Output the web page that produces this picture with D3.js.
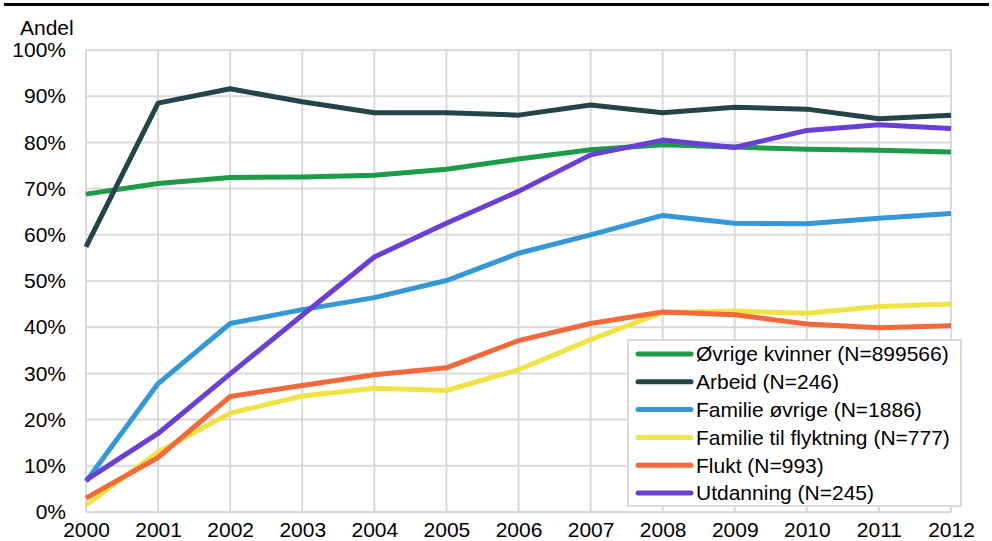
<!DOCTYPE html>
<html>
<head>
<meta charset="utf-8">
<script src="https://cdn.jsdelivr.net/npm/d3@7"></script>
<style>
  body { margin: 0; background: #fff; }
  svg { display: block; font-family: "Liberation Sans", Arial, sans-serif; }
</style>
</head>
<body>
<script>
var years = [2000, 2001, 2002, 2003, 2004, 2005, 2006, 2007, 2008, 2009, 2010, 2011, 2012];
var yTicks = [0, 10, 20, 30, 40, 50, 60, 70, 80, 90, 100];

var seriesNames = [
  "Øvrige kvinner (N=899566)",
  "Arbeid (N=246)",
  "Familie øvrige (N=1886)",
  "Familie til flyktning (N=777)",
  "Flukt (N=993)",
  "Utdanning (N=245)"
];
var seriesColors = ["#1c9c48", "#25434a", "#3498d6", "#f0e443", "#f3693a", "#6a3fd8"];

var ovrige    = [68.8, 71.1, 72.4, 72.5, 72.9, 74.2, 76.4, 78.4, 79.5, 79.0, 78.5, 78.3, 77.9];
var arbeid    = [57.4, 88.5, 91.6, 88.8, 86.4, 86.4, 85.9, 88.1, 86.4, 87.6, 87.2, 85.1, 85.9];
var famOvrige = [6.6, 27.8, 40.8, 43.8, 46.4, 50.1, 56.0, 60.0, 64.2, 62.5, 62.4, 63.6, 64.6];
var famFlykt  = [1.5, 13.0, 21.4, 25.1, 26.8, 26.3, 30.8, 37.3, 43.2, 43.5, 43.0, 44.5, 45.0];
var flukt     = [3.0, 11.8, 25.0, 27.4, 29.7, 31.2, 37.1, 40.8, 43.3, 42.7, 40.7, 39.9, 40.3];
var utdanning = [6.9, 17.0, 29.9, 42.6, 55.2, 62.5, 69.4, 77.3, 80.5, 78.9, 82.6, 83.8, 83.0];

var allValues = [ovrige, arbeid, famOvrige, famFlykt, flukt, utdanning];

var w = 992, h = 541;
var plotLeft = 86, plotRight = 951, plotTop = 50, plotBottom = 512;

var svg = d3.select("body").append("svg")
  .attr("width", w)
  .attr("height", h);

var xScale = d3.scaleLinear()
  .domain([2000, 2012])
  .range([plotLeft, plotRight]);

var yScale = d3.scaleLinear()
  .domain([0, 100])
  .range([plotBottom, plotTop]);

// top rule
svg.append("line")
  .attr("x1", 4).attr("x2", 989)
  .attr("y1", 4.5).attr("y2", 4.5)
  .attr("stroke", "#000")
  .attr("stroke-width", 3);

// grid
var grid = svg.append("g");
grid.selectAll(".hg")
  .data(yTicks)
  .enter()
  .append("line")
  .attr("x1", plotLeft).attr("x2", plotRight)
  .attr("y1", function(d) { return yScale(d); })
  .attr("y2", function(d) { return yScale(d); })
  .attr("stroke", "#d9d9d9")
  .attr("stroke-width", 2);
grid.selectAll(".vg")
  .data(years)
  .enter()
  .append("line")
  .attr("x1", function(d) { return xScale(d); })
  .attr("x2", function(d) { return xScale(d); })
  .attr("y1", plotTop).attr("y2", plotBottom)
  .attr("stroke", "#d9d9d9")
  .attr("stroke-width", 2);

// axes
var yAxis = svg.append("g")
  .attr("transform", "translate(" + plotLeft + ",0)")
  .call(d3.axisLeft(yScale)
    .tickValues(yTicks)
    .tickSize(0)
    .tickPadding(20)
    .tickFormat(function(d) { return d + "%"; }));

var xAxis = svg.append("g")
  .attr("transform", "translate(0," + plotBottom + ")")
  .call(d3.axisBottom(xScale)
    .tickValues(years)
    .tickSize(0)
    .tickPadding(10)
    .tickFormat(d3.format("d")));

[yAxis, xAxis].forEach(function(a) {
  a.select(".domain").remove();
  a.selectAll("text")
    .attr("fill", "#000")
    .style("font-size", "21px")
    .style("font-family", "'Liberation Sans', Arial, sans-serif");
});

svg.append("text")
  .attr("x", 20)
  .attr("y", 35)
  .attr("font-size", "21px")
  .attr("fill", "#000")
  .text("Andel");

// lines
var line = d3.line()
  .x(function(d, i) { return xScale(years[i]); })
  .y(function(d) { return yScale(d); });

svg.append("g")
  .selectAll("path")
  .data(allValues)
  .enter()
  .append("path")
  .attr("d", line)
  .attr("fill", "none")
  .attr("stroke", function(d, i) { return seriesColors[i]; })
  .attr("stroke-width", 5)
  .attr("stroke-linejoin", "round");

// legend
var lg = svg.append("g").attr("transform", "translate(628,340)");
lg.append("rect")
  .attr("width", 333)
  .attr("height", 166)
  .attr("fill", "#fff")
  .attr("stroke", "#d9d9d9")
  .attr("stroke-width", 2);

var items = lg.selectAll(".item")
  .data(seriesNames)
  .enter()
  .append("g")
  .attr("transform", function(d, i) { return "translate(0," + (14 + i * 27.8) + ")"; });

items.append("line")
  .attr("x1", 10).attr("x2", 63)
  .attr("stroke", function(d, i) { return seriesColors[i]; })
  .attr("stroke-width", 5)
  .attr("stroke-linecap", "round");

items.append("text")
  .attr("x", 68)
  .attr("dy", "0.35em")
  .attr("font-size", "21px")
  .attr("fill", "#000")
  .text(function(d) { return d; });
</script>
</body>
</html>
